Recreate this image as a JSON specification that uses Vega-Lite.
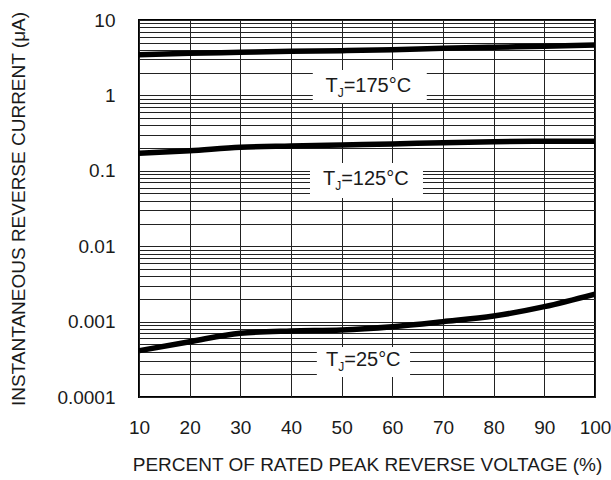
{
  "$schema": "https://vega.github.io/schema/vega-lite/v6.json",
  "width": 456,
  "height": 377,
  "autosize": {"type": "none"},
  "padding": {"left": 139, "top": 20, "right": 16, "bottom": 83},
  "background": "white",
  "config": {
    "font": "Liberation Sans",
    "view": {"stroke": "black", "strokeWidth": 2},
    "axis": {"labelColor": "#1a1a1a", "titleColor": "#1a1a1a", "titleFontWeight": "normal", "labelFontWeight": "normal"}
  },
  "datasets": {
    "curves": [
      {"v": 10, "i": 3.47, "s": "175"}, {"v": 20, "i": 3.62, "s": "175"}, {"v": 30, "i": 3.73, "s": "175"}, {"v": 40, "i": 3.84, "s": "175"}, {"v": 50, "i": 3.92, "s": "175"}, {"v": 60, "i": 4.04, "s": "175"}, {"v": 70, "i": 4.21, "s": "175"}, {"v": 80, "i": 4.35, "s": "175"}, {"v": 90, "i": 4.48, "s": "175"}, {"v": 100, "i": 4.66, "s": "175"},
      {"v": 10, "i": 0.171, "s": "125"}, {"v": 20, "i": 0.185, "s": "125"}, {"v": 30, "i": 0.205, "s": "125"}, {"v": 40, "i": 0.213, "s": "125"}, {"v": 50, "i": 0.22, "s": "125"}, {"v": 60, "i": 0.227, "s": "125"}, {"v": 70, "i": 0.236, "s": "125"}, {"v": 80, "i": 0.243, "s": "125"}, {"v": 90, "i": 0.246, "s": "125"}, {"v": 100, "i": 0.246, "s": "125"},
      {"v": 10, "i": 0.000411, "s": "25"}, {"v": 20, "i": 0.000541, "s": "25"}, {"v": 30, "i": 0.0007, "s": "25"}, {"v": 40, "i": 0.00075, "s": "25"}, {"v": 50, "i": 0.000774, "s": "25"}, {"v": 60, "i": 0.000856, "s": "25"}, {"v": 70, "i": 0.000998, "s": "25"}, {"v": 80, "i": 0.001186, "s": "25"}, {"v": 90, "i": 0.00158, "s": "25"}, {"v": 100, "i": 0.00232, "s": "25"}
    ],
    "boxes": [
      {"x": 44.3, "x2": 66.8, "y": 0.79, "y2": 2.17},
      {"x": 43.75, "x2": 66.05, "y": 0.0436, "y2": 0.127},
      {"x": 45.1, "x2": 63.5, "y": 0.000184, "y2": 0.00046}
    ],
    "labels": [
      {"x": 50.4, "y": 1.33, "t": "T", "j": "J", "rest": "=175°C"},
      {"x": 49.9, "y": 0.0778, "t": "T", "j": "J", "rest": "=125°C"},
      {"x": 50.5, "y": 0.000305, "t": "T", "j": "J", "rest": "=25°C"}
    ]
  },
  "layer": [
    {
      "data": {"name": "boxes"},
      "mark": {"type": "rect", "fill": "white", "stroke": null},
      "encoding": {
        "x": {
          "field": "x", "type": "quantitative",
          "scale": {"domain": [10, 100], "nice": false, "zero": false},
          "axis": {
            "title": "PERCENT OF RATED PEAK REVERSE VOLTAGE (%)",
            "values": [10, 20, 30, 40, 50, 60, 70, 80, 90, 100],
            "grid": true, "gridColor": "#222", "gridWidth": 1, "gridOpacity": 1,
            "domain": false, "ticks": false, "tickSize": 0,
            "labelFontSize": 19, "labelPadding": 21, "labelFlush": false, "labelOverlap": false,
            "titleFontSize": 19, "titlePadding": 18
          }
        },
        "x2": {"field": "x2"},
        "y": {
          "field": "y", "type": "quantitative",
          "scale": {"type": "log", "domain": [0.0001, 10], "nice": false},
          "axis": {
            "title": "INSTANTANEOUS REVERSE CURRENT (μA)",
            "values": [0.0001, 0.0002, 0.0003, 0.0004, 0.0005, 0.0006, 0.0007, 0.0008, 0.0009,
                       0.001, 0.002, 0.003, 0.004, 0.005, 0.006, 0.007, 0.008, 0.009,
                       0.01, 0.02, 0.03, 0.04, 0.05, 0.06, 0.07, 0.08, 0.09,
                       0.1, 0.2, 0.3, 0.4, 0.5, 0.6, 0.7, 0.8, 0.9,
                       1, 2, 3, 4, 5, 6, 7, 8, 9, 10],
            "format": "~g",
            "labelExpr": "abs(log(datum.value)/LN10 - round(log(datum.value)/LN10)) < 0.000001 ? datum.label : ''",
            "grid": true, "gridColor": "#222", "gridWidth": 1, "gridOpacity": 1,
            "domain": false, "ticks": false, "tickSize": 0,
            "labelFontSize": 19, "labelPadding": 24, "labelFlush": false, "labelOverlap": false,
            "titleFontSize": 19, "titlePadding": 28
          }
        },
        "y2": {"field": "y2"}
      }
    },
    {
      "data": {"name": "curves"},
      "mark": {"type": "line", "color": "black", "strokeWidth": 5.5, "interpolate": "monotone", "clip": true},
      "encoding": {
        "x": {"field": "v", "type": "quantitative"},
        "y": {"field": "i", "type": "quantitative"},
        "detail": {"field": "s"}
      }
    },
    {
      "data": {"name": "labels"},
      "mark": {"type": "text", "fontSize": 20, "align": "right", "baseline": "middle", "dx": -6, "color": "#1a1a1a"},
      "encoding": {
        "x": {"field": "x", "type": "quantitative"},
        "y": {"field": "y", "type": "quantitative"},
        "text": {"field": "t"}
      }
    },
    {
      "data": {"name": "labels"},
      "mark": {"type": "text", "fontSize": 12, "align": "left", "baseline": "middle", "dx": -6, "dy": 7, "color": "#1a1a1a"},
      "encoding": {
        "x": {"field": "x", "type": "quantitative"},
        "y": {"field": "y", "type": "quantitative"},
        "text": {"field": "j"}
      }
    },
    {
      "data": {"name": "labels"},
      "mark": {"type": "text", "fontSize": 20, "align": "left", "baseline": "middle", "dx": 0, "color": "#1a1a1a"},
      "encoding": {
        "x": {"field": "x", "type": "quantitative"},
        "y": {"field": "y", "type": "quantitative"},
        "text": {"field": "rest"}
      }
    }
  ]
}
